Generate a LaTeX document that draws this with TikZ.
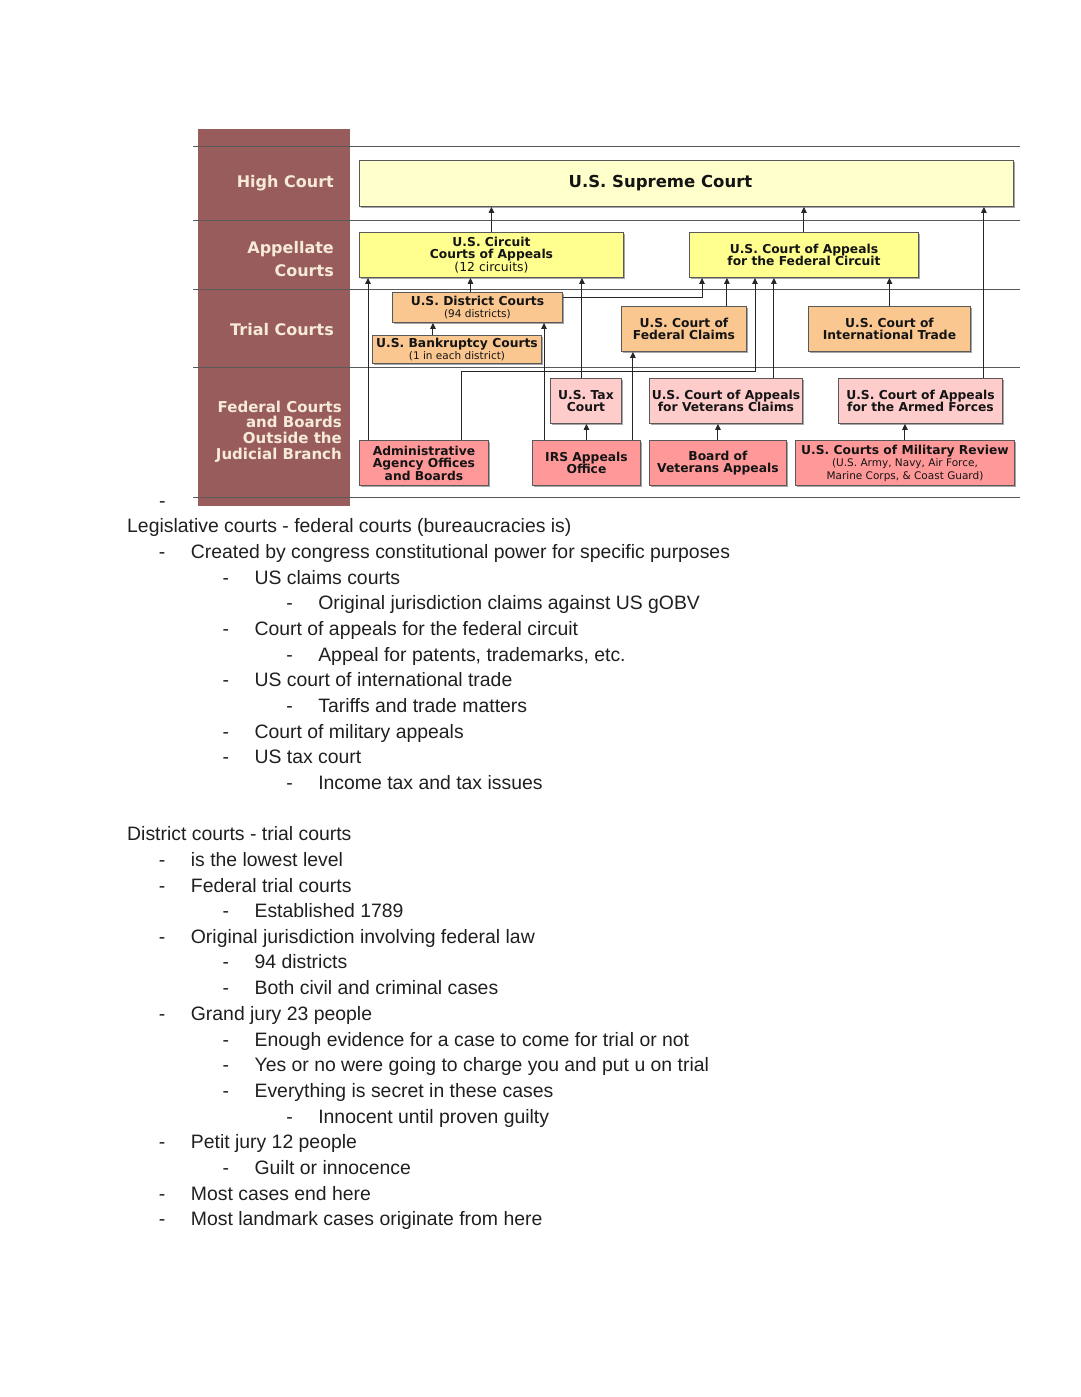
\documentclass[tikz,border=0pt]{standalone}
\usepackage{fontspec}
\setmainfont{Liberation Sans}
\newfontfamily\verd{DejaVu Sans}
\usetikzlibrary{shadows, arrows.meta}
\definecolor{maroon}{rgb}{0.60,0.36,0.36}
\definecolor{cream}{rgb}{0.96,0.92,0.84}
\definecolor{palesun}{rgb}{1,1,0.80}
\definecolor{sun}{rgb}{1,1,0.56}
\definecolor{peach}{rgb}{0.98,0.78,0.57}
\definecolor{blush}{rgb}{1,0.80,0.80}
\definecolor{salmon}{rgb}{1,0.60,0.60}
\definecolor{rulegray}{rgb}{0.35,0.35,0.35}
\newcommand\subnote[2][10.5]{{\mdseries\fontsize{#1}{#1}\selectfont #2}}

\begin{document}
\begin{tikzpicture}[
  x=1pt, y=-1pt,
  every node/.style={inner sep=0pt},
  court/.style={
    draw=rulegray,
    line width=0.9pt,
    anchor=north west,
    align=center,
    text=black!92,
    font=\verd\bfseries\fontsize{12.3}{12.5}\selectfont,
    drop shadow={shadow xshift=2pt, shadow yshift=-2pt, opacity=0.35, fill=black}
  },
  lane/.style={anchor=east, align=right, text=cream, font=\verd\bfseries\fontsize{16}{23}\selectfont},
  rule/.style={draw=rulegray, line width=1pt},
  arr/.style={draw=black!85, line width=1pt, -{Triangle[length=6pt,width=5.5pt]}},
  note/.style={anchor=base west, text=black!88, font=\fontsize{19.4}{22}\selectfont}
]
\useasboundingbox (0,0) rectangle (1080,1397);

\fill[maroon] (198,129) rectangle (350,506);
\foreach \ry in {146,220,289,367,497}
  \draw[rule] (193,\ry) -- (1020,\ry);

\node[lane] (high) at (334,183) {High Court};
\node[lane] (appl) at (334,259.5) {Appellate\\Courts};
\node[lane] (trial) at (334,330) {Trial Courts};
\node[lane, font=\verd\bfseries\fontsize{15}{15.7}\selectfont] (outside) at (342,431.5) {Federal Courts\\and Boards\\Outside the\\Judicial Branch};

\node[court, fill=palesun, minimum width=654pt, minimum height=46pt, font=\verd\bfseries\fontsize{16.5}{18}\selectfont] (sc) at (359,160) {U.S. Supreme Court\hspace*{52pt}};

\node[court, fill=sun, minimum width=264pt, minimum height=45pt] (cca) at (359,232) {U.S. Circuit\\Courts of Appeals\\\subnote[12.4]{(12 circuits)}};
\node[court, fill=sun, minimum width=229pt, minimum height=45pt] (cafc) at (689,232) {U.S. Court of Appeals\\for the Federal Circuit};

\node[court, fill=peach, minimum width=170pt, minimum height=30pt] (dc) at (392,292) {U.S. District Courts\\\subnote{(94 districts)}};
\node[court, fill=peach, minimum width=169pt, minimum height=28pt] (bk) at (372,335) {U.S. Bankruptcy Courts\\\subnote{(1 in each district)}};
\node[court, fill=peach, minimum width=125pt, minimum height=45pt] (cfc) at (621,306) {U.S. Court of\\Federal Claims};
\node[court, fill=peach, minimum width=162pt, minimum height=45pt] (cit) at (808,306) {U.S. Court of\\International Trade};

\node[court, fill=blush, minimum width=71pt, minimum height=45pt] (tax) at (550,378) {U.S. Tax\\Court};
\node[court, fill=blush, minimum width=153pt, minimum height=45pt] (cavc) at (649,378) {U.S. Court of Appeals\\for Veterans Claims};
\node[court, fill=blush, minimum width=164pt, minimum height=45pt] (caaf) at (838,378) {U.S. Court of Appeals\\for the Armed Forces};

\node[court, fill=salmon, minimum width=129pt, minimum height=45pt] (admin) at (359,440) {Administrative\\Agency Offices\\and Boards};
\node[court, fill=salmon, minimum width=108pt, minimum height=45pt] (irs) at (532,440) {IRS Appeals\\Office};
\node[court, fill=salmon, minimum width=137pt, minimum height=45pt] (bva) at (649,440) {Board of\\Veterans Appeals};
\node[court, fill=salmon, minimum width=219pt, minimum height=45pt] (cmr) at (795,440) {U.S. Courts of Military Review\\\subnote{(U.S. Army, Navy, Air Force,}\\\subnote{Marine Corps, \& Coast Guard)}};

\coordinate (caafup) at ([xshift=-19pt]caaf.north east);
\coordinate (admup) at ([xshift=9pt]admin.north west);
\coordinate (dcup) at ([xshift=-7pt]dc.north);
\coordinate (taxup) at ([xshift=-4pt]tax.north);
\coordinate (dcout) at ([yshift=10pt]dc.east);
\coordinate (dcin) at ([xshift=13pt]cafc.south west);
\coordinate (cfcup) at ([xshift=-20pt]cfc.north east);
\coordinate (admup2) at ([xshift=-27pt]admin.north east);
\coordinate (admbend) at (755,371);
\coordinate (cavcup) at ([xshift=-29pt]cavc.north east);
\coordinate (bkup) at ([xshift=-24pt]bk.north);
\coordinate (irsup) at ([xshift=12pt]irs.north west);
\coordinate (irsup2) at ([xshift=-8pt]irs.north east);

\draw[arr] (cca.north) -- (cca.north |- sc.south);
\draw[arr] (cafc.north) -- (cafc.north |- sc.south);
\draw[arr] (caafup) -- (caafup |- sc.south);
\draw[arr] (admup) -- (admup |- cca.south);
\draw[arr] (dcup) -- (dcup |- cca.south);
\draw[arr] (taxup) -- (taxup |- cca.south);
\draw[arr] (dcout) -| (dcin);
\draw[arr] (cfcup) -- (cfcup |- cafc.south);
\draw[arr] (admup2) |- (admbend) -- (admbend |- cafc.south);
\draw[arr] (cavcup) -- (cavcup |- cafc.south);
\draw[arr] (cit.north) -- (cit.north |- cafc.south);
\draw[arr] (bkup) -- (bkup |- dc.south);
\draw[arr] (irsup) -- (irsup |- dc.south);
\draw[arr] (irsup2) -- (irsup2 |- cfc.south);
\draw[arr] (irs.north) -- (irs.north |- tax.south);
\draw[arr] (bva.north) -- (bva.north |- cavc.south);
\draw[arr] (cmr.north) -- (cmr.north |- caaf.south);

\node[note] (lone) at (159,507) {-};
\foreach \ty/\lv/\tx [count=\i] in {
  525/0/{Legislative courts - federal courts (bureaucracies is)},
  551/1/{Created by congress constitutional power for specific purposes},
  577/2/{US claims courts},
  602/3/{Original jurisdiction claims against US gOBV},
  628/2/{Court of appeals for the federal circuit},
  654/3/{Appeal for patents, trademarks, etc.},
  679/2/{US court of international trade},
  705/3/{Tariffs and trade matters},
  731/2/{Court of military appeals},
  756/2/{US tax court},
  782/3/{Income tax and tax issues},
  833/0/{District courts - trial courts},
  859/1/{is the lowest level},
  885/1/{Federal trial courts},
  910/2/{Established 1789},
  936/1/{Original jurisdiction involving federal law},
  961/2/{94 districts},
  987/2/{Both civil and criminal cases},
  1013/1/{Grand jury 23 people},
  1039/2/{Enough evidence for a case to come for trial or not},
  1064/2/{Yes or no were going to charge you and put u on trial},
  1090/2/{Everything is secret in these cases},
  1116/3/{Innocent until proven guilty},
  1141/1/{Petit jury 12 people},
  1167/2/{Guilt or innocence},
  1193/1/{Most cases end here},
  1218/1/{Most landmark cases originate from here}}{
  \node[note] (ln\i) at (127+63.7*\lv, \ty+7) {\tx};
  \ifnum\lv>0 \node[note] (dash\i) at (95+63.7*\lv, \ty+7) {-}; \fi
}
\end{tikzpicture}
\end{document}
